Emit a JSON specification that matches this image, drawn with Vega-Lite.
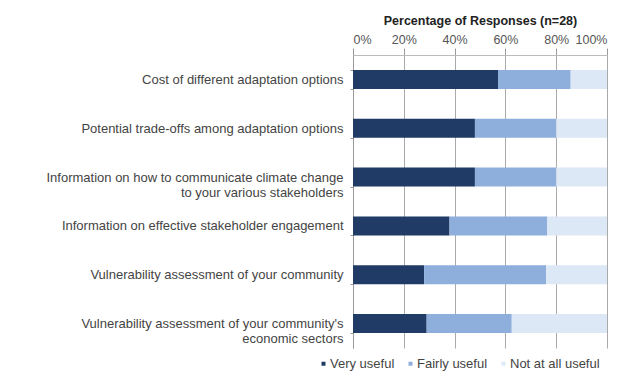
{
  "$schema": "https://vega.github.io/schema/vega-lite/v6.json",
  "autosize": {"type": "none"},
  "width": 254,
  "height": 293,
  "padding": {"left": 353, "top": 55, "right": 32, "bottom": 28},
  "background": "white",
  "config": {
    "font": "Liberation Sans",
    "view": {"stroke": null}
  },
  "data": {
    "values": [
      {"item": "Cost of different adaptation options", "resp": "Very useful", "k": 1, "v": 0.571},
      {"item": "Cost of different adaptation options", "resp": "Fairly useful", "k": 2, "v": 0.286},
      {"item": "Cost of different adaptation options", "resp": "Not at all useful", "k": 3, "v": 0.143},
      {"item": "Potential trade-offs among adaptation options", "resp": "Very useful", "k": 1, "v": 0.48},
      {"item": "Potential trade-offs among adaptation options", "resp": "Fairly useful", "k": 2, "v": 0.32},
      {"item": "Potential trade-offs among adaptation options", "resp": "Not at all useful", "k": 3, "v": 0.20},
      {"item": "Information on how to communicate climate change|to your various stakeholders", "resp": "Very useful", "k": 1, "v": 0.48},
      {"item": "Information on how to communicate climate change|to your various stakeholders", "resp": "Fairly useful", "k": 2, "v": 0.32},
      {"item": "Information on how to communicate climate change|to your various stakeholders", "resp": "Not at all useful", "k": 3, "v": 0.20},
      {"item": "Information on effective stakeholder engagement", "resp": "Very useful", "k": 1, "v": 0.38},
      {"item": "Information on effective stakeholder engagement", "resp": "Fairly useful", "k": 2, "v": 0.385},
      {"item": "Information on effective stakeholder engagement", "resp": "Not at all useful", "k": 3, "v": 0.235},
      {"item": "Vulnerability assessment of your community", "resp": "Very useful", "k": 1, "v": 0.28},
      {"item": "Vulnerability assessment of your community", "resp": "Fairly useful", "k": 2, "v": 0.48},
      {"item": "Vulnerability assessment of your community", "resp": "Not at all useful", "k": 3, "v": 0.24},
      {"item": "Vulnerability assessment of your community's|economic sectors", "resp": "Very useful", "k": 1, "v": 0.29},
      {"item": "Vulnerability assessment of your community's|economic sectors", "resp": "Fairly useful", "k": 2, "v": 0.335},
      {"item": "Vulnerability assessment of your community's|economic sectors", "resp": "Not at all useful", "k": 3, "v": 0.375}
    ]
  },
  "mark": {"type": "bar"},
  "encoding": {
    "y": {
      "field": "item",
      "type": "nominal",
      "sort": null,
      "scale": {"paddingInner": 0.61, "paddingOuter": 0.305},
      "axis": {
        "title": null,
        "labelExpr": "split(datum.label, '|')",
        "labelFontSize": 13,
        "labelColor": "#444",
        "labelPadding": 7,
        "labelLimit": 345,
        "labelLineHeight": 15,
        "tickBand": "extent",
        "tickSize": 3,
        "tickColor": "#999",
        "domainColor": "#999"
      }
    },
    "x": {
      "field": "v",
      "type": "quantitative",
      "stack": "zero",
      "scale": {"domain": [0, 1], "nice": false},
      "axis": {
        "orient": "top",
        "title": "Percentage of Responses (n=28)",
        "titleFontSize": 12.5,
        "titleFontWeight": "bold",
        "titleColor": "#222",
        "titlePadding": 6,
        "values": [0, 0.2, 0.4, 0.6, 0.8, 1],
        "format": ".0%",
        "labelFontSize": 12.5,
        "labelColor": "#555",
        "labelPadding": 2,
        "tickSize": 7,
        "tickColor": "#999",
        "domainColor": "#bbb",
        "grid": true,
        "gridColor": "#aaa",
        "gridWidth": 1
      }
    },
    "color": {
      "field": "resp",
      "type": "nominal",
      "scale": {
        "domain": ["Very useful", "Fairly useful", "Not at all useful"],
        "range": ["#1f3b66", "#8eaedb", "#dde8f6"]
      },
      "legend": {
        "title": null,
        "orient": "none",
        "direction": "horizontal",
        "legendX": -36,
        "legendY": 302,
        "symbolType": "square",
        "symbolSize": 16,
        "symbolOffset": 0,
        "labelFontSize": 13,
        "labelColor": "#444",
        "labelOffset": 0,
        "columnPadding": 9
      }
    },
    "order": {"field": "k", "type": "quantitative"}
  }
}
